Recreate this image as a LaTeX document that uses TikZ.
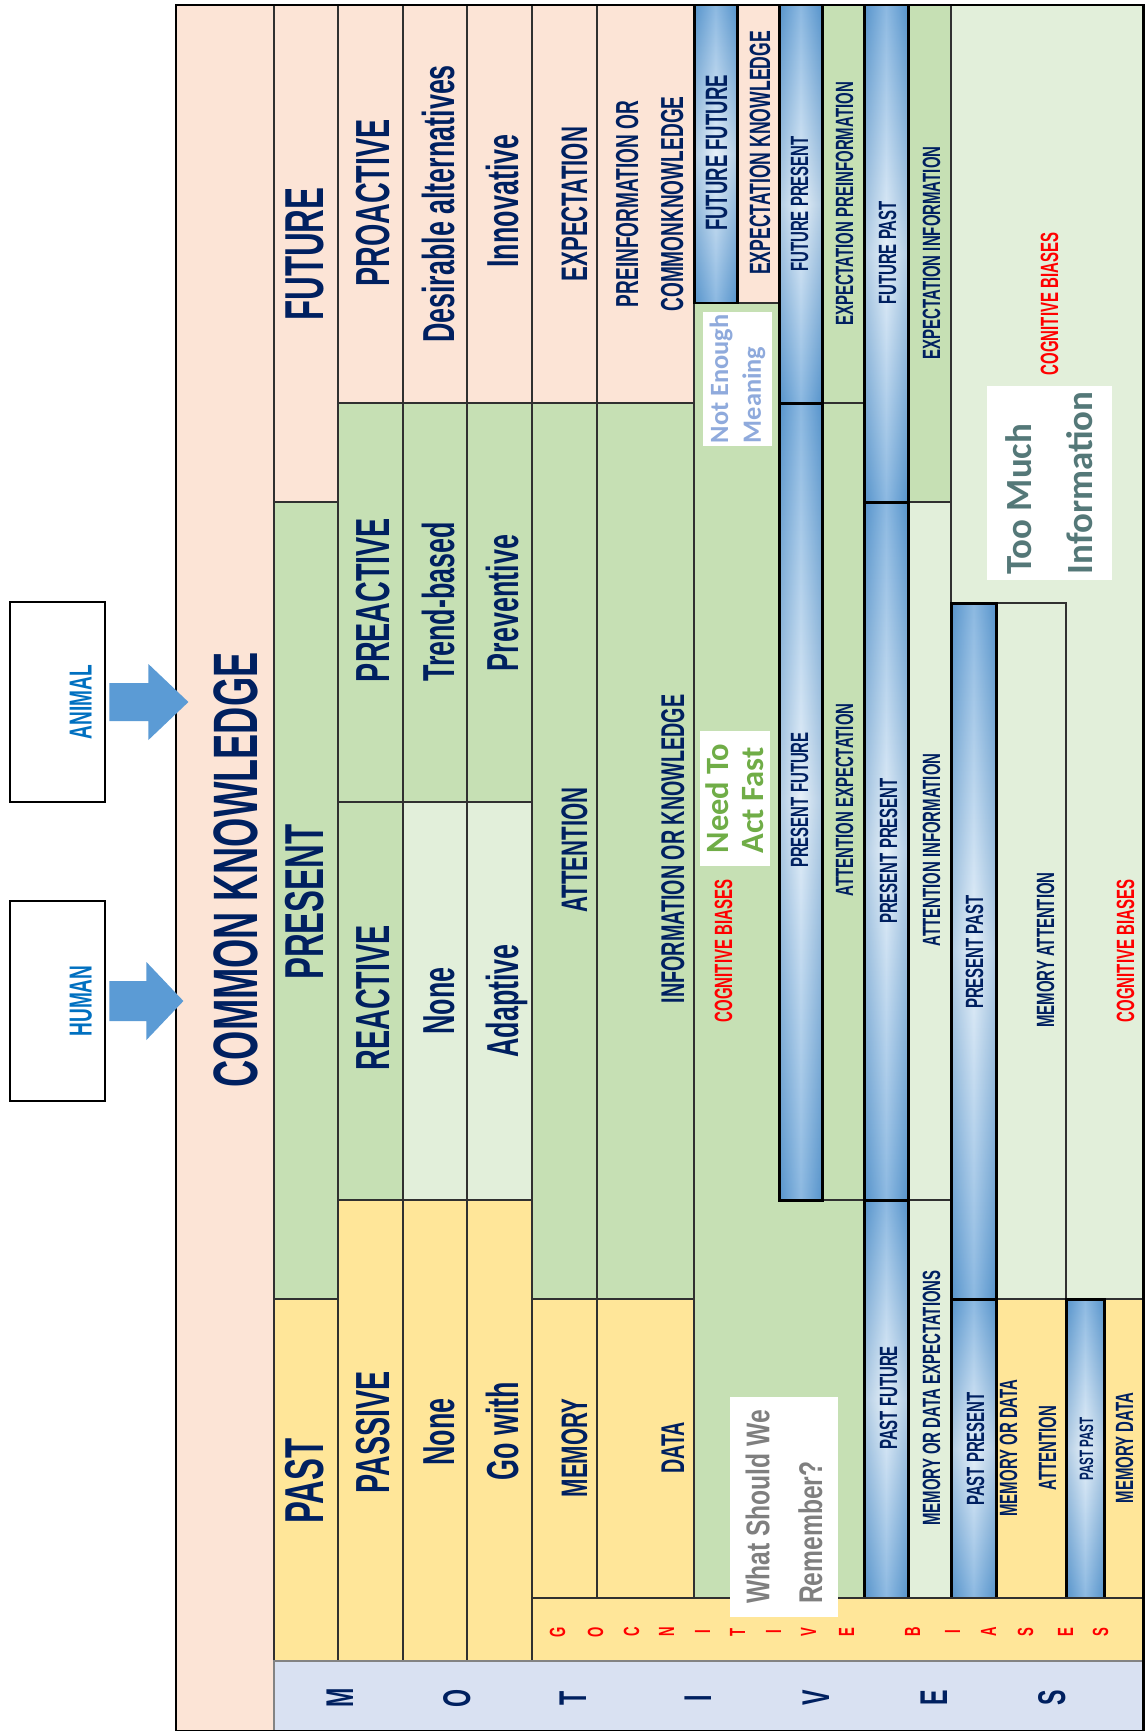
\documentclass[tikz,border=0pt]{standalone}
\usepackage{fontspec}
\usetikzlibrary{calc}
\newfontfamily\cnd[FakeStretch=0.6]{Liberation Sans}
\newfontfamily\cndw[FakeStretch=0.75]{Liberation Sans}
\newfontfamily\calib{Carlito}
\newcommand\fz[1]{\fontsize{#1pt}{#1pt}\selectfont}
\definecolor{peach}{HTML}{FCE4D6}
\definecolor{pgreen}{HTML}{C6E0B4}
\definecolor{pyellow}{HTML}{FFE699}
\definecolor{lgreen}{HTML}{E2EFDA}
\definecolor{lav}{HTML}{D9E1F2}
\definecolor{navyc}{HTML}{002060}
\definecolor{abl}{HTML}{5B9BD5}
\definecolor{hblue}{HTML}{0070C0}
\definecolor{barlight}{HTML}{DDEBF7}
\definecolor{gridc}{HTML}{303030}
\definecolor{nemc}{HTML}{8FAADC}
\definecolor{natc}{HTML}{70AD47}
\definecolor{tmic}{RGB}{84,120,120}
\definecolor{wswc}{HTML}{7F7F7F}
\begin{document}
\begin{tikzpicture}[x=0.02cm, y=-0.02cm,
  cell/.style={draw=gridc, line width=0.7pt},
  bar/.style={top color=abl, bottom color=abl, middle color=barlight},
  barsheen/.style={left color=abl!85!black, right color=abl!85!black, middle color=white, fill opacity=0.3},
  barline/.style={draw=black, line width=1.7pt},
  lbl/.style={rotate=90, anchor=base, inner sep=0pt, text=navyc},
  hbox/.style={draw=black, line width=1.6pt, fill=white, minimum width=1.9cm, minimum height=4cm, inner sep=0pt},
  callout/.style={rotate=90, fill=white, inner sep=0pt, align=left},
  redlbl/.style={lbl, text=red, font=\cnd\bfseries\fz{14.2}},
  small/.style={lbl, font=\cnd\bfseries\fz{14.2}}]
\path[use as bounding box, fill=white] (0,0) rectangle (1147,1731);

% left column
\path[cell, fill=peach] (176,5) rectangle (274,1731);

% time row
\path[cell, fill=peach] (274,5) rectangle (338,502);
\path[cell, fill=pgreen] (274,502) rectangle (338,1299);
\path[cell, fill=pyellow] (274,1299) rectangle (338,1661);

% stance rows
\foreach \xa/\xb/\fc in {338/403/pgreen, 403/467/lgreen, 467/532/lgreen}{
  \path[cell, fill=peach] (\xa,5) rectangle (\xb,403);
  \path[cell, fill=pgreen] (\xa,403) rectangle (\xb,802);
  \path[cell, fill=\fc] (\xa,802) rectangle (\xb,1200);
  \path[cell, fill=pyellow] (\xa,1200) rectangle (\xb,1661);
}
% mind rows
\foreach \xa/\xb in {532/597, 597/694}{
  \path[cell, fill=peach] (\xa,5) rectangle (\xb,403);
  \path[cell, fill=pgreen] (\xa,403) rectangle (\xb,1299);
  \path[cell, fill=pyellow] (\xa,1299) rectangle (\xb,1598);
}

% background areas of the right part
\path[cell, fill=pgreen] (694,303) rectangle (864,1598);
\path[cell, fill=lgreen] (951,5) rectangle (1143,1299);

% cells of the right part
\path[cell, fill=peach] (737,5) rectangle (779,303);
\path[cell, fill=pgreen] (822,5) rectangle (864,403);
\path[cell, fill=pgreen] (822,403) rectangle (864,1200);
\path[cell, fill=pgreen] (908,5) rectangle (951,502);
\path[cell, fill=lgreen] (908,502) rectangle (951,1200);
\path[cell, fill=lgreen] (908,1200) rectangle (951,1598);
\path[cell, fill=lgreen] (996,603) rectangle (1066,1299);
\path[cell, fill=pyellow] (996,1299) rectangle (1066,1598);
\path[cell, fill=pyellow] (1104,1299) rectangle (1143,1598);

% blue bars: lengthwise shading, a soft sheen across, then the outline
\foreach \xa/\ya/\xb/\yb in {694/5/737/303, 779/5/822/403, 779/403/822/1200,
    864/5/908/502, 864/502/908/1200, 864/1200/908/1598,
    951/603/996/1299, 951/1299/996/1598, 1066/1299/1104/1598}{
  \path[bar] (\xa,\ya) rectangle (\xb,\yb);
  \path[barsheen] (\xa,\ya) rectangle (\xb,\yb);
  \path[barline] (\xa,\ya) rectangle (\xb,\yb);
}

% bottom strips
\path[cell, fill=pyellow] (532,1598) rectangle (1143,1661);
\path[draw=gridc!60, line width=0.7pt, fill=lav] (274,1661) rectangle (1143,1731);

% outer frame
\draw[line width=1.7pt] (176,5) rectangle (1143,1731);

% sources and arrows
\node[hbox] (animal) at (57.5,702) {};
\node[hbox] (human) at (57.5,1001) {};
\node[lbl, text=hblue, font=\cnd\bfseries\fz{18.1}] (animal-t) at (91.5,702) {ANIMAL};
\node[lbl, text=hblue, font=\cnd\bfseries\fz{18.1}] (human-t) at (91.5,1001) {HUMAN};
\fill[abl] ($(animal.east)+(3,-19)$) -- ($(animal.east)+(42,-19)$) -- ($(animal.east)+(42,-38)$)
  -- ($(animal.east)+(82,0)$) -- ($(animal.east)+(42,38)$) -- ($(animal.east)+(42,19)$)
  -- ($(animal.east)+(3,19)$) -- cycle;
\fill[abl] ($(human.east)+(3,-20)$) -- ($(human.east)+(40,-20)$) -- ($(human.east)+(40,-39)$)
  -- ($(human.east)+(77,0)$) -- ($(human.east)+(40,39)$) -- ($(human.east)+(40,20)$)
  -- ($(human.east)+(3,20)$) -- cycle;

% callouts
\node[callout, minimum width=2.68cm, minimum height=1.38cm, text=nemc,
  font=\calib\bfseries\fontsize{15pt}{18.7pt}\selectfont] (nem) at (737.5,379) {Not Enough\\Meaning};
\node[callout, minimum width=2.7cm, minimum height=1.4cm, text=natc,
  font=\calib\bfseries\fontsize{18.5pt}{19.8pt}\selectfont] (naf) at (735,798.5) {Need To\\Act Fast};
\node[callout, minimum width=3.88cm, minimum height=2.5cm, text=tmic,
  font=\calib\bfseries\fontsize{21pt}{34.6pt}\selectfont] (tmi) at (1049.5,483) {Too Much\\Information};
\node[callout, minimum width=4.4cm, minimum height=2.16cm, text=wswc,
  font=\cndw\bfseries\fontsize{18.7pt}{30pt}\selectfont] (wsw) at (784,1507) {What Should We\\Remember?};

% headings
\node[lbl, font=\cnd\bfseries\fz{35.7}] (ck) at (257.5,870) {COMMON KNOWLEDGE};
\node[lbl, font=\cnd\bfseries\fz{31.2}] (future) at (323,254) {FUTURE};
\node[lbl, font=\cnd\bfseries\fz{31.2}] (present) at (323,902) {PRESENT};
\node[lbl, font=\cnd\bfseries\fz{31.2}] (past) at (323,1481) {PAST};
\node[lbl, font=\cnd\bfseries\fz{27.2}] (proactive) at (389,203) {PROACTIVE};
\node[lbl, font=\cnd\bfseries\fz{27.2}] (preactive) at (389,600) {PREACTIVE};
\node[lbl, font=\cnd\bfseries\fz{27.2}] (reactive) at (389,998) {REACTIVE};
\node[lbl, font=\cnd\bfseries\fz{27.2}] (passive) at (389,1432) {PASSIVE};
\node[lbl, font=\cnd\bfseries\fz{25.5}] (desir) at (454,204) {Desirable alternatives};
\node[lbl, font=\cnd\bfseries\fz{25.5}] (trend) at (454,602) {Trend-based};
\node[lbl, font=\cnd\bfseries\fz{25.5}] (none-a) at (454,1001) {None};
\node[lbl, font=\cnd\bfseries\fz{25.5}] (none-b) at (454,1432) {None};
\node[lbl, font=\cnd\bfseries\fz{25.5}] (innov) at (518,201) {Innovative};
\node[lbl, font=\cnd\bfseries\fz{25.5}] (prevent) at (518,603) {Preventive};
\node[lbl, font=\cnd\bfseries\fz{25.5}] (adapt) at (518,1001) {Adaptive};
\node[lbl, font=\cnd\bfseries\fz{25.5}] (gowith) at (518,1431) {Go with};
\node[lbl, font=\cnd\bfseries\fz{21}] (expect) at (587,204) {EXPECTATION};
\node[lbl, font=\cnd\bfseries\fz{21}] (attent) at (587,850) {ATTENTION};
\node[lbl, font=\cnd\bfseries\fz{21}] (memory) at (587,1448) {MEMORY};
\node[lbl, font=\cnd\bfseries\fz{18.1}] (preinf) at (638,204) {PREINFORMATION OR};
\node[lbl, font=\cnd\bfseries\fz{18.1}] (commk) at (683,204) {COMMONKNOWLEDGE};
\node[lbl, font=\cnd\bfseries\fz{18.7}] (infk) at (684,849) {INFORMATION OR KNOWLEDGE};
\node[lbl, font=\cnd\bfseries\fz{18.7}] (data) at (684,1448) {DATA};

% cross labels
\node[lbl, font=\cnd\bfseries\fz{17.6}] (ff) at (727,153) {FUTURE FUTURE};
\node[lbl, font=\cnd\bfseries\fz{16.7}] (ek) at (770,153) {EXPECTATION KNOWLEDGE};
\node[small] (fpr) at (808,204) {FUTURE PRESENT};
\node[small] (epi) at (853,204) {EXPECTATION PREINFORMATION};
\node[small] (fpa) at (896,253) {FUTURE PAST};
\node[small] (ei) at (940,253) {EXPECTATION INFORMATION};
\node[small] (pf) at (808,800) {PRESENT FUTURE};
\node[small] (ae) at (853,800) {ATTENTION EXPECTATION};
\node[small] (pp) at (897,851) {PRESENT PRESENT};
\node[small] (ai) at (940,850) {ATTENTION INFORMATION};
\node[small] (ppa) at (983,952) {PRESENT PAST};
\node[small] (ma) at (1054,950) {MEMORY ATTENTION};
\node[small] (paf) at (897,1398) {PAST FUTURE};
\node[small] (mde) at (940,1398) {MEMORY OR DATA EXPECTATIONS};
\node[small] (papr) at (984,1449) {PAST PRESENT};
\node[small] (mod) at (1017,1448) {MEMORY OR DATA};
\node[small] (att2) at (1056,1448) {ATTENTION};
\node[lbl, font=\cnd\bfseries\fz{11}] (papa) at (1093,1449) {PAST PAST};
\node[small] (md) at (1133,1448) {MEMORY DATA};

% biases
\node[redlbl] (cb1) at (732,951) {COGNITIVE BIASES};
\node[redlbl] (cb2) at (1134,951) {COGNITIVE BIASES};
\node[redlbl] (cb3) at (1058,304) {COGNITIVE BIASES};

% spaced letters
\foreach \xc/\ch [count=\i] in {557/G,595/O,631/C,666/N,702/I,737/T,773/I,808/V,846/E,912/B,952/I,988/A,1025/S,1065/E,1100/S}{
  \node[lbl, text=red, font=\cnd\bfseries\fz{12.5}] (g\i) at (\xc+8,1632) {\ch};
}
\foreach \xc/\ch [count=\i] in {339/M,456/O,572/T,697/I,815/V,933/E,1051/S}{
  \node[lbl, font=\cnd\bfseries\fz{22}] (m\i) at (\xc+14,1698) {\ch};
}
\end{tikzpicture}
\end{document}
